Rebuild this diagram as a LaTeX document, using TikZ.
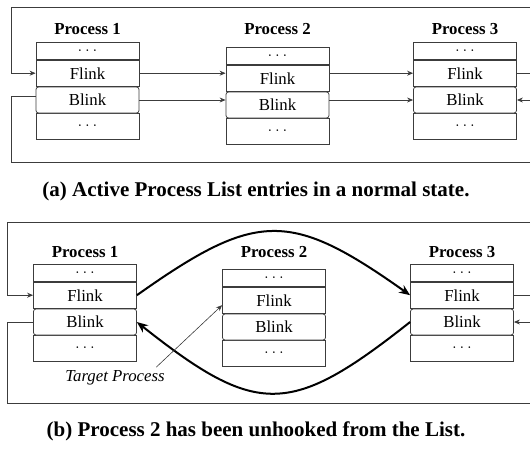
\documentclass[tikz,border=0pt]{standalone}
\usepackage{fontspec}
\setmainfont{Liberation Serif}
\usetikzlibrary{arrows.meta,positioning,calc}

\definecolor{linegray}{RGB}{60,60,60}

% one process entry: prefix, x, y of top, y of title, title
\newcommand{\procbox}[5]{%
  \node[proctitle] (#1-title) at (#2,#4) {#5};
  \node[rowbox, minimum height=17pt, anchor=north] (#1-top) at (#2,#3) {$\ldots$};
  \node[rowbox, minimum height=26pt, anchor=north] (#1-flink) at (#1-top.south) {Flink};
  \node[rowbox, minimum height=26pt, anchor=north, yshift=-26pt] (#1-end) at (#1-flink.south) {$\ldots$};
  \node[linkbox, minimum height=26pt, anchor=north] (#1-blink) at (#1-flink.south) {Blink};
}

\begin{document}
\begin{tikzpicture}[x=1pt,y=-1pt,
    rowbox/.style={draw=linegray, line width=0.8pt, minimum width=103pt, inner sep=0pt, fill=white, font=\fontsize{16.8}{19}\selectfont},
    linkbox/.style={rowbox, rounded corners=2.5pt},
    proctitle/.style={font=\fontsize{16.8}{19}\selectfont\bfseries},
    link/.style={draw=linegray, line width=0.8pt, -{Stealth[length=6pt,width=5pt]}},
    wire/.style={draw=linegray, line width=0.8pt},
    unhook/.style={line width=2pt, -{Stealth[length=11pt,width=9pt]}},
    capt/.style={font=\fontsize{21}{24}\selectfont\bfseries}]
    \useasboundingbox (0,0) rectangle (530,450);

    % (a) normal state
    \procbox{pa1}{87.5}{42}{29}{Process 1}
    \procbox{pa2}{277.5}{47}{29}{Process 2}
    \procbox{pa3}{465}{42}{29}{Process 3}

    \coordinate (a-nw) at (11,7);
    \coordinate (a-ne) at (530,7);
    \coordinate (a-sw) at (11,162);
    \coordinate (a-se) at (530,162);

    \draw[link] (a-ne) -- (a-nw) |- (pa1-flink.west);
    \draw[wire] ([yshift=4pt]pa1-blink.west) -| (a-sw) -- (a-se);
    \draw[link] (pa1-flink.east) -- (pa1-flink.east -| pa2-flink.west);
    \draw[link] (pa1-blink.east) -- (pa1-blink.east -| pa2-blink.west);
    \draw[link] (pa3-flink.west -| pa2-flink.east) -- (pa3-flink.west);
    \draw[link] (pa3-blink.west -| pa2-blink.east) -- (pa3-blink.west);
    \draw[wire] (pa3-flink.east) -- (pa3-flink.east -| a-ne);
    \draw[link] (pa3-blink.east -| a-ne) -- (pa3-blink.east);

    \node[capt] (capa) at (256,191) {(a) Active Process List entries in a normal state.};

    % (b) unhooked
    \procbox{pb1}{85}{264}{252}{Process 1}
    \procbox{pb2}{274}{269}{252}{Process 2}
    \procbox{pb3}{462}{264}{252}{Process 3}

    \coordinate (b-nw) at (7,222);
    \coordinate (b-ne) at (530,222);
    \coordinate (b-sw) at (7,403);
    \coordinate (b-se) at (530,403);

    \draw[link] (b-ne) -- (b-nw) |- (pb1-flink.west);
    \draw[wire] (pb1-blink.west) -| (b-sw) -- (b-se);
    \draw[wire] (pb3-flink.east) -- (pb3-flink.east -| b-ne);
    \draw[link] (pb3-blink.east -| b-ne) -- (pb3-blink.east);

    \draw[unhook] (pb1-flink.east) .. controls +(120,-85) and +(-120,-85) .. (pb3-flink.west);
    \draw[unhook] (pb3-blink.west) .. controls +(-120,95) and +(120,95) .. (pb1-blink.east);

    \node[font=\fontsize{16.8}{19}\selectfont\itshape] (target) at (115,378) {Target Process};
    \draw[link, line width=0.6pt] ([xshift=-12pt]target.north east) -- ([yshift=-5pt]pb2-flink.west);

    \node[capt] (capb) at (256,431) {(b) Process 2 has been unhooked from the List.};
\end{tikzpicture}
\end{document}
